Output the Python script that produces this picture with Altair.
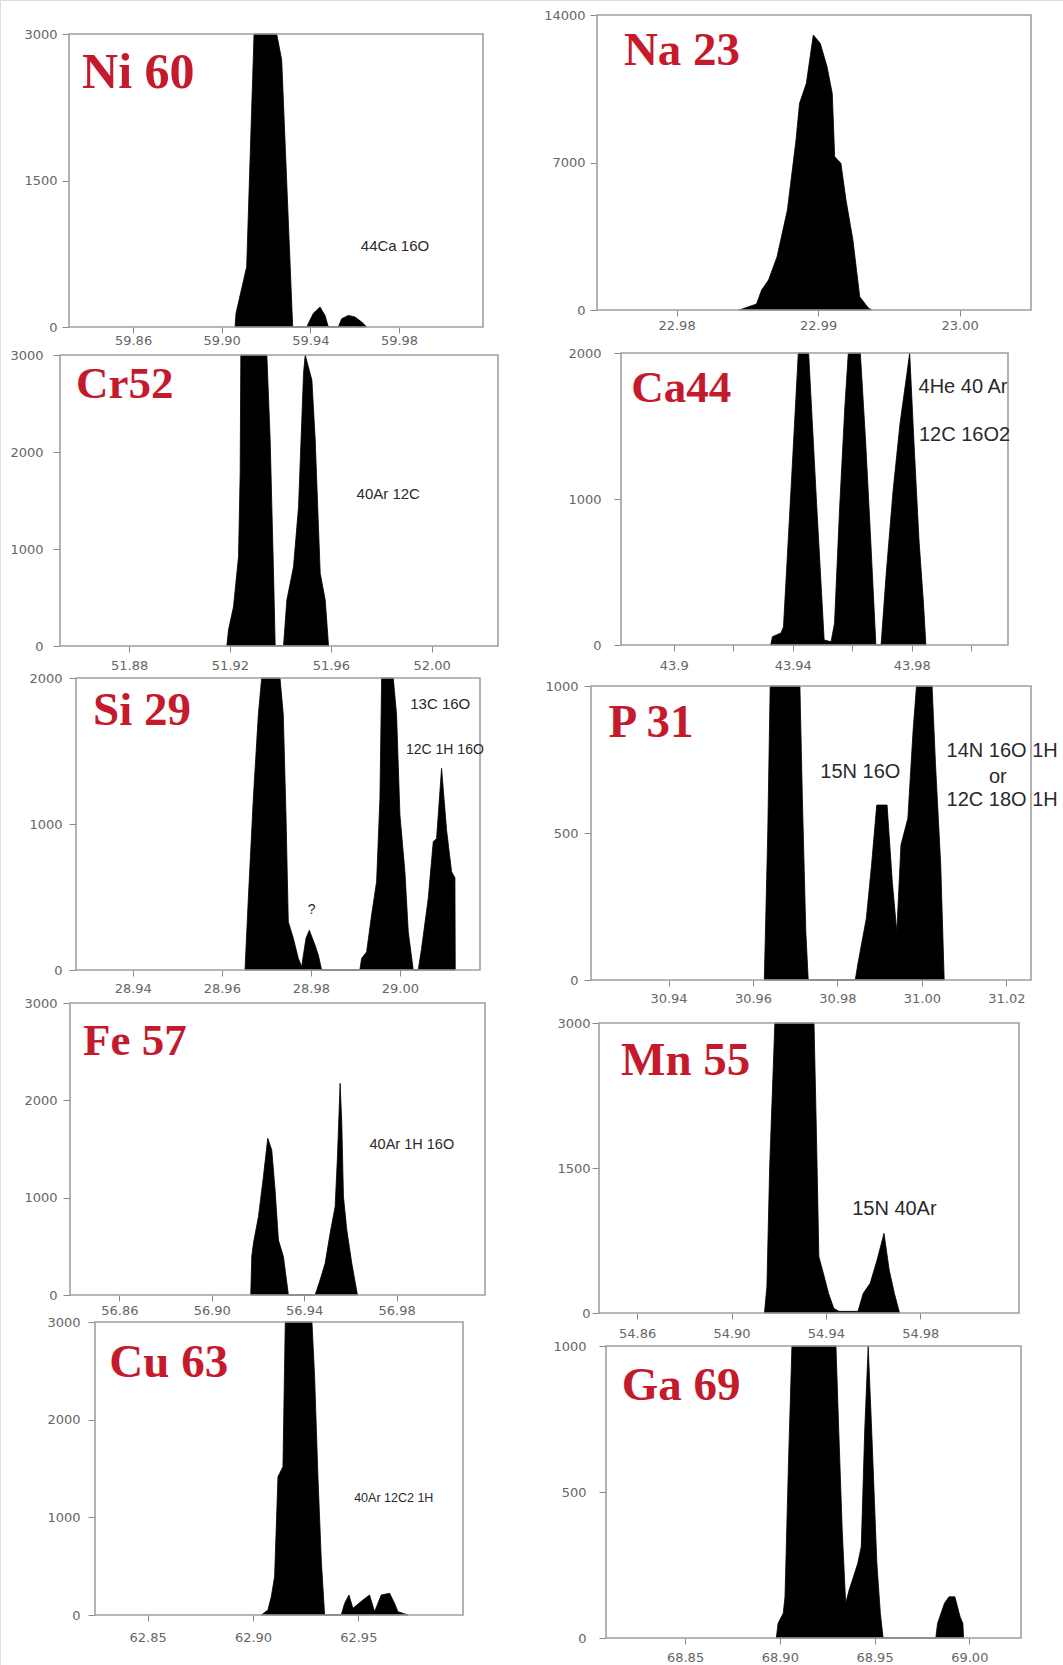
import altair as alt
import pandas as pd

W, H = 1063, 1665

# ---------------------------------------------------------------
# Spectra: m/z and ion counts for each element window
# ---------------------------------------------------------------
ni_mz = [59.90601, 59.90646, 59.91127, 59.91459, 59.92482, 59.92707, 59.93203,
         59.93834, 59.94135, 59.94436, 59.94662, 59.94812,
         59.95264, 59.95414, 59.95715, 59.96016, 59.96316, 59.96542]
ni_counts = [0, 140, 618, 3000, 3000, 2734, 0,
             0, 140, 205, 119, 0,
             0, 85, 119, 102, 51, 0]

na_mz = [22.98443, 22.98565, 22.98601, 22.98650, 22.98710, 22.98783, 22.98844,
         22.98869, 22.98917, 22.98966, 22.99015, 22.99063, 22.99100, 22.99117,
         22.99161, 22.99197, 22.99246, 22.99294, 22.99355, 22.99380]
na_counts = [0, 285, 950, 1424, 2530, 4745, 8068, 9810, 10760, 13050, 12655,
             11550, 10280, 7275, 6960, 5220, 3322, 630, 95, 0]

cr_mz = [51.91876, 51.91942, 51.92140, 51.92339, 51.92405, 51.92431, 51.93463,
         51.93595, 51.93728, 51.93794, 51.94124, 51.94257, 51.94521, 51.94720,
         51.94918, 51.94984, 51.95249, 51.95381, 51.95579, 51.95778, 51.95910]
cr_counts = [0, 165, 405, 921, 1780, 3000, 3000, 2124, 749, 0, 0, 474, 818, 1436,
             2811, 3000, 2742, 2124, 749, 474, 0]

ca_mz = [43.93258, 43.93316, 43.93606, 43.93687, 43.93950, 43.94186, 43.94533,
         43.94789, 43.95055, 43.95287, 43.95403, 43.95577, 43.95751, 43.95867,
         43.96272, 43.96446, 43.96620, 43.96794, 43.96968, 43.97142, 43.97374,
         43.97606, 43.97838, 43.97930, 43.98070, 43.98243, 43.98394, 43.98475]
ca_counts = [0, 57, 83, 124, 1100, 2000, 2000, 1016, 34, 23, 148, 947, 1632, 2000,
             2000, 1404, 719, 0, 0, 491, 1062, 1518, 1861, 2000, 1404, 719, 285, 0]

si_mz = [28.96521, 28.96596, 28.96708, 28.96820, 28.96895, 28.97307, 28.97381,
         28.97441, 28.97493, 28.97606, 28.97718, 28.97793, 28.97890, 28.97965,
         28.98092, 28.98167, 28.98242,
         28.99100, 28.99140, 28.99252, 28.99364, 28.99476, 28.99551, 28.99589,
         28.99850, 28.99925, 29.00000, 29.00112, 29.00187, 29.00299,
         29.00411, 29.00486, 29.00636, 29.00748, 29.00823, 29.00935, 29.01048,
         29.01160, 29.01235, 29.01242]
si_counts = [0, 491, 1176, 1747, 2000, 2000, 1747, 1062, 331, 217, 80, 23, 217, 272,
             171, 103, 0,
             0, 80, 124, 377, 605, 1176, 2000, 2000, 1747, 1062, 673, 262, 0,
             0, 148, 491, 879, 901, 1381, 957, 673, 632, 0]

p_mz = [30.96268, 30.96350, 30.96407, 30.97111, 30.97169, 30.97251, 30.97308,
        30.98422, 30.98479, 30.98684, 30.98807, 30.98930, 30.99175, 30.99298,
        30.99405, 30.99503, 30.99667, 30.99789, 30.99871, 31.00240, 31.00322,
        31.00445, 31.00527]
p_counts = [0, 504, 1000, 1000, 618, 164, 0, 0, 51, 210, 391, 595, 595, 334, 164,
            459, 550, 845, 1000, 1000, 731, 391, 0]

fe_mz = [56.91687, 56.91730, 56.91802, 56.92019, 56.92235, 56.92423, 56.92596,
         56.92740, 56.92884, 56.93101, 56.93317, 56.94472, 56.94688, 56.94905,
         56.95121, 56.95338, 56.95439, 56.95554, 56.95626, 56.95698, 56.95843,
         56.96059, 56.96304]
fe_counts = [0, 394, 531, 805, 1216, 1610, 1490, 1079, 565, 394, 0, 0, 154, 325,
             634, 907, 1421, 2175, 1764, 1010, 668, 325, 0]

mn_mz = [54.91396, 54.91499, 54.91617, 54.91837, 54.93496, 54.93599, 54.93702,
         54.93893, 54.94113, 54.94333, 54.94554, 54.95361, 54.95581, 54.95875,
         54.96169, 54.96463, 54.96683, 54.96903, 54.97123]
mn_counts = [0, 272, 1514, 3000, 3000, 1859, 583, 410, 203, 48, 17, 17, 203, 307,
             548, 824, 445, 203, 0]

cu_mz = [62.90394, 62.90710, 62.90869, 62.91027, 62.91185, 62.91264, 62.91422,
         62.91533, 62.92799, 62.92925, 62.93084, 62.93242, 62.93400, 62.94191,
         62.94349, 62.94555, 62.94745, 62.95219, 62.95535, 62.95773, 62.96089,
         62.96485, 62.96722, 62.96880, 62.97355]
cu_counts = [0, 51, 188, 393, 1416, 1450, 1519, 3000, 3000, 2440, 1416, 563, 0, 0,
             119, 205, 68, 154, 205, 34, 205, 222, 119, 34, 0]

ga_mz = [68.89817, 68.89908, 68.90183, 68.90274, 68.90457, 68.90640, 68.92964,
         68.93110, 68.93293, 68.93476, 68.93659, 68.94116, 68.94299, 68.94482,
         68.94665, 68.94848, 68.95122, 68.95305, 68.95452, 68.98233, 68.98324,
         68.98690, 68.98928, 68.99239, 68.99513, 68.99660, 68.99697]
ga_counts = [0, 50, 85, 141, 598, 1000, 1000, 712, 370, 119, 164, 256, 313, 712,
             1000, 712, 256, 85, 0, 0, 50, 119, 141, 141, 73, 50, 0]

# Element labels and interference annotations
titles = ["Ni 60", "Na 23", "Cr52", "Ca44", "Si 29", "P 31", "Fe 57", "Mn 55", "Cu 63", "Ga 69"]
ni_notes = ["44Ca 16O"]
cr_notes = ["40Ar 12C"]
ca_notes = ["4He 40 Ar", "12C 16O2"]
si_notes = ["13C 16O", "12C 1H 16O", "?"]
p_notes = ["15N 16O", "14N 16O 1H", "or", "12C 18O 1H"]
fe_notes = ["40Ar 1H 16O"]
mn_notes = ["15N 40Ar"]
cu_notes = ["40Ar 12C2 1H"]

# ---------------------------------------------------------------
# Panel layout: plot box (left, right, top, bottom) in page pixels,
# axis domains / ticks, and where each label sits in data units.
# ---------------------------------------------------------------
panels = [
    dict(mz=ni_mz, counts=ni_counts, title=titles[0], tsize=50, box=(69, 483, 34, 327),
         xdom=[59.8311, 60.0179], ydom=[0, 3000],
         xticks=[59.86, 59.90, 59.94, 59.98], yticks=[0, 1500, 3000],
         ygap=12, xgap=13, tpos=(59.837, 2447),
         notes=ni_notes, npos=[(59.9782, 829, 15)]),
    dict(mz=na_mz, counts=na_counts, title=titles[1], tsize=47, box=(597, 1031, 15, 310),
         xdom=[22.97438, 23.00504], ydom=[0, 14000],
         xticks=[22.98, 22.99, 23.00], yticks=[0, 7000, 14000],
         ygap=12, xgap=15, tpos=(22.97628, 11627), notes=[], npos=[]),
    dict(mz=cr_mz, counts=cr_counts, title=titles[2], tsize=45, box=(60, 498, 355, 646),
         xdom=[51.8526, 52.0263], ydom=[0, 3000],
         xticks=[51.88, 51.92, 51.96, 52.00], yticks=[0, 1000, 2000, 3000],
         ygap=17, xgap=19, tpos=(51.85897, 2557),
         notes=cr_notes, npos=[(51.98278, 1567, 15)]),
    dict(mz=ca_mz, counts=ca_counts, title=titles[3], tsize=45, box=(621, 1008, 353, 645),
         xdom=[43.88226, 44.01235], ydom=[0, 2000],
         xticks=[43.90, 43.92, 43.94, 43.96, 43.98, 44.00], yticks=[0, 1000, 2000],
         xlabels={43.90: "43.9", 43.94: "43.94", 43.98: "43.98"},
         ygap=20, xgap=20, tpos=(43.88574, 1666),
         notes=ca_notes, npos=[(43.99722, 1769, 20), (43.99774, 1438, 20)]),
    dict(mz=si_mz, counts=si_counts, title=titles[4], tsize=47, box=(76, 480, 678, 970),
         xdom=[28.92726, 29.01798], ydom=[0, 2000],
         xticks=[28.94, 28.96, 28.98, 29.00], yticks=[0, 1000, 2000],
         ygap=14, xgap=18, tpos=(28.93109, 1678),
         notes=si_notes, npos=[(29.00905, 1820, 15), (29.01010, 1507, 14), (28.98018, 411, 14)]),
    dict(mz=p_mz, counts=p_counts, title=titles[5], tsize=47, box=(591, 1031, 686, 980),
         xdom=[30.92165, 31.02582], ydom=[0, 1000],
         xticks=[30.94, 30.96, 30.98, 31.00, 31.02], yticks=[0, 500, 1000],
         ygap=13, xgap=18, tpos=(30.92582, 828),
         notes=p_notes, npos=[(30.98541, 709, 20), (31.01899, 779, 20),
                              (31.01796, 692, 20), (31.01899, 612, 20)]),
    dict(mz=fe_mz, counts=fe_counts, title=titles[6], tsize=45, box=(70, 485, 1003, 1295),
         xdom=[56.83866, 57.01823], ydom=[0, 3000],
         xticks=[56.86, 56.90, 56.94, 56.98], yticks=[0, 1000, 2000, 3000],
         ygap=13, xgap=15, tpos=(56.84429, 2466),
         notes=fe_notes, npos=[(56.98658, 1541, 14.5)]),
    dict(mz=mn_mz, counts=mn_counts, title=titles[7], tsize=47, box=(599, 1019, 1023, 1313),
         xdom=[54.84383, 55.02185], ydom=[0, 3000],
         xticks=[54.86, 54.90, 54.94, 54.98], yticks=[0, 1500, 3000],
         ygap=9, xgap=20, tpos=(54.85317, 2462),
         notes=mn_notes, npos=[(54.96903, 1072, 20)]),
    dict(mz=cu_mz, counts=cu_counts, title=titles[8], tsize=47, box=(95, 463, 1322, 1615),
         xdom=[62.825, 62.9997], ydom=[0, 3000],
         xticks=[62.85, 62.90, 62.95], yticks=[0, 1000, 2000, 3000],
         ygap=15, xgap=22, tpos=(62.83180, 2440),
         notes=cu_notes, npos=[(62.96683, 1195, 12.5)]),
    dict(mz=ga_mz, counts=ga_counts, title=titles[9], tsize=47, box=(606, 1021, 1346, 1638),
         xdom=[68.80829, 69.02728], ydom=[0, 1000],
         xticks=[68.85, 68.90, 68.95, 69.00], yticks=[0, 500, 1000],
         ygap=20, xgap=19, tpos=(68.81657, 815), notes=[], npos=[]),
]

FRAME = "#a0a0a0"
TICK = "#8a8a8a"
LABEL = "#666666"
TITLE_RED = "#c41a2b"
X_TICK = 6
Y_TICK = 7


def make_panel(p):
    x0, x1, top, bottom = p["box"]
    xscale = alt.Scale(domain=p["xdom"], range=[x0, x1], nice=False, zero=False)
    yscale = alt.Scale(domain=p["ydom"], range=[bottom, top], nice=False, zero=False)

    xaxis_kw = dict(
        orient="bottom", offset=bottom - H, values=p["xticks"], format=".2f",
        domain=False, grid=False, ticks=True, tickSize=X_TICK, tickColor=TICK,
        labelFont="DejaVu Sans", labelFontSize=13, labelColor=LABEL,
        labelPadding=p["xgap"] - X_TICK - 6, labelFlush=False, labelOverlap=False,
    )
    if "xlabels" in p:
        expr = " : ".join(
            f"abs(datum.value - {v}) < 0.001 ? '{t}'" for v, t in p["xlabels"].items()
        ) + " : ''"
        xaxis_kw["labelExpr"] = expr
    xaxis = alt.Axis(**xaxis_kw)
    yaxis = alt.Axis(
        orient="left", offset=-x0, values=p["yticks"], format="d",
        domain=False, grid=False, ticks=True, tickSize=Y_TICK, tickColor=TICK,
        labelFont="DejaVu Sans", labelFontSize=13, labelColor=LABEL,
        labelPadding=p["ygap"] - Y_TICK, labelFlush=False, labelOverlap=False,
    )
    X = alt.X("mz:Q", scale=xscale, axis=xaxis, title=None)
    Y = alt.Y("counts:Q", scale=yscale, axis=yaxis, title=None)

    spectrum = pd.DataFrame({"mz": p["mz"], "counts": p["counts"]})
    area = alt.Chart(spectrum).mark_area(
        color="black", interpolate="linear", stroke="black", strokeWidth=0.8
    ).encode(x=X, y=Y, y2=alt.datum(0))

    frame_df = pd.DataFrame({
        "mz": [p["xdom"][0]], "mz2": [p["xdom"][1]],
        "counts": [p["ydom"][0]], "counts2": [p["ydom"][1]],
    })
    frame = alt.Chart(frame_df).mark_rect(
        fillOpacity=0, stroke=FRAME, strokeWidth=1.6
    ).encode(x=X, x2="mz2", y=Y, y2="counts2")

    title_df = pd.DataFrame({"mz": [p["tpos"][0]], "counts": [p["tpos"][1]], "label": [p["title"]]})
    title = alt.Chart(title_df).mark_text(
        font="Liberation Serif", fontWeight="bold", fontSize=p["tsize"], color=TITLE_RED,
        align="left", baseline="alphabetic"
    ).encode(x=X, y=Y, text="label:N")

    layers = [area, frame, title]
    if p["notes"]:
        notes_df = pd.DataFrame({
            "label": p["notes"],
            "mz": [n[0] for n in p["npos"]],
            "counts": [n[1] for n in p["npos"]],
            "fs": [n[2] for n in p["npos"]],
        })
        notes = alt.Chart(notes_df).mark_text(
            font="Liberation Sans", color="#2a2a2a", align="center", baseline="middle"
        ).encode(x=X, y=Y, text="label:N",
                 size=alt.Size("fs:Q", scale=None, legend=None))
        layers.append(notes)
    return alt.layer(*layers)


chart = (
    alt.layer(*[make_panel(p) for p in panels])
    .resolve_scale(x="independent", y="independent")
    .resolve_axis(x="independent", y="independent")
    .properties(width=W, height=H, autosize=alt.AutoSizeParams(type="none"), padding=0)
    .configure_view(stroke=None)
    .configure(background="white")
)

chart.save("out.html", embed_options={"renderer": "svg", "actions": False})
